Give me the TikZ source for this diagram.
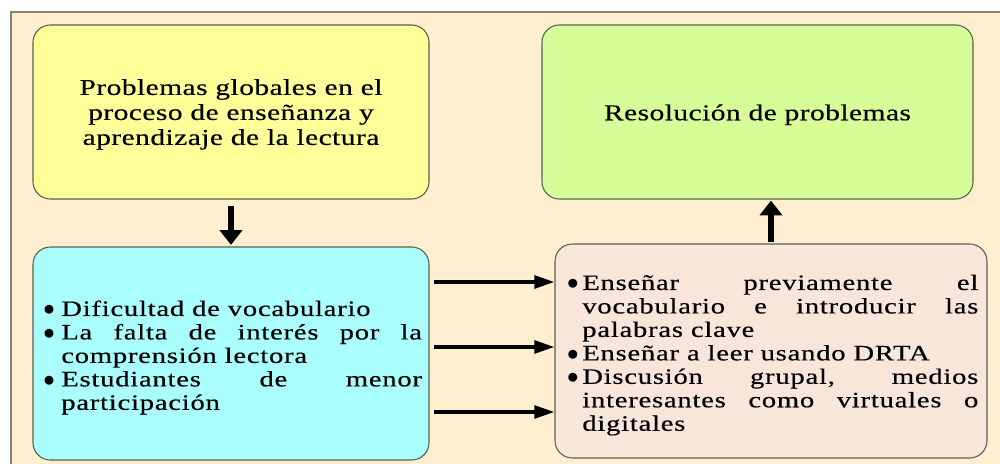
\documentclass[tikz,border=0pt]{standalone}
\usepackage{fontspec}
\setmainfont{Liberation Serif}
\newfontfamily\topfont{Liberation Serif}[FakeStretch=1.3, LetterSpace=2, FakeBold=0.4]
\newfontfamily\botfont{Liberation Serif}[FakeStretch=1.3, LetterSpace=3.5, FakeBold=0.4]
\usetikzlibrary{arrows.meta}
\definecolor{bgc}{HTML}{FFEFD0}
\definecolor{framec}{HTML}{8A8373}
\definecolor{boxline}{HTML}{55624F}
\definecolor{yel}{HTML}{FFFF9A}
\definecolor{grn}{HTML}{D7FD98}
\definecolor{cya}{HTML}{ABFEFE}
\definecolor{pnk}{HTML}{F9E6DA}
\newcommand\bitem[2]{\par\noindent\hangindent=#1\hangafter=1\makebox[#1][l]{\hspace{2.5pt}$\bullet$}#2}
\tikzset{
  box/.style={draw=boxline, line width=0.8pt, rounded corners=13pt, inner sep=0pt, align=center},
  toptext/.style={font=\topfont\fontsize{17pt}{18.75pt}\selectfont},
  bottext/.style={font=\botfont\fontsize{16.5pt}{17.6pt}\selectfont},
  varrow/.style={line width=4.5pt, -{Triangle[length=11pt,width=16.5pt]}},
  harrow/.style={line width=2.6pt, -{Triangle[length=15pt,width=9.5pt]}}
}
\begin{document}
\begin{tikzpicture}[x=0.75pt,y=-0.75pt]
\useasboundingbox (0,0) rectangle (1000,464);
\path[fill=bgc, draw=framec, line width=1.2pt] (11,12) rectangle (1010,475);

\node[box, toptext, fill=yel, minimum width=297pt, minimum height=130.5pt] (yellow) at (231,112)
  {\rule{0pt}{15.5pt}Problemas globales en el\\proceso de enseñanza y\\aprendizaje de la lectura};
\node[box, toptext, fill=grn, minimum width=323.25pt, minimum height=130.5pt, text height=16pt] (green) at (757.5,112)
  {Resolución de problemas};
\node[box, bottext, fill=cya, minimum width=297pt, minimum height=159.75pt, text width=286.5pt, align=justify] (cyan) at (231,353.5)
  {\hyphenpenalty=10000\tolerance=10000
   \bitem{16pt}{Dificultad de vocabulario}
   \bitem{16pt}{La falta de interés por la\linebreak comprensión lectora}
   \bitem{16pt}{Estudiantes de menor\linebreak participación}\par};
\node[box, bottext, fill=pnk, minimum width=324pt, minimum height=160.5pt, text width=311pt, align=justify] (pink) at (771,351)
  {\hyphenpenalty=10000\tolerance=10000
   \bitem{14pt}{Enseñar previamente el\linebreak vocabulario e introducir las\linebreak palabras clave}
   \bitem{14pt}{Enseñar a leer usando DRTA}
   \bitem{14pt}{Discusión grupal, medios\linebreak interesantes como virtuales o\linebreak digitales}\par};

\coordinate (h1) at (0,282);
\coordinate (h2) at (0,347);
\coordinate (h3) at (0,412);

\draw[varrow, shorten <=4.5pt, shorten >=1.2pt] (yellow.south) -- (yellow.south |- cyan.north);
\draw[varrow, shorten <=0.8pt, shorten >=0.8pt] (pink.north) -- (pink.north |- green.south);
\draw[harrow, shorten <=3pt] (cyan.east |- h1) -- (pink.west |- h1);
\draw[harrow, shorten <=3pt] (cyan.east |- h2) -- (pink.west |- h2);
\draw[harrow, shorten <=3pt] (cyan.east |- h3) -- (pink.west |- h3);
\end{tikzpicture}
\end{document}
